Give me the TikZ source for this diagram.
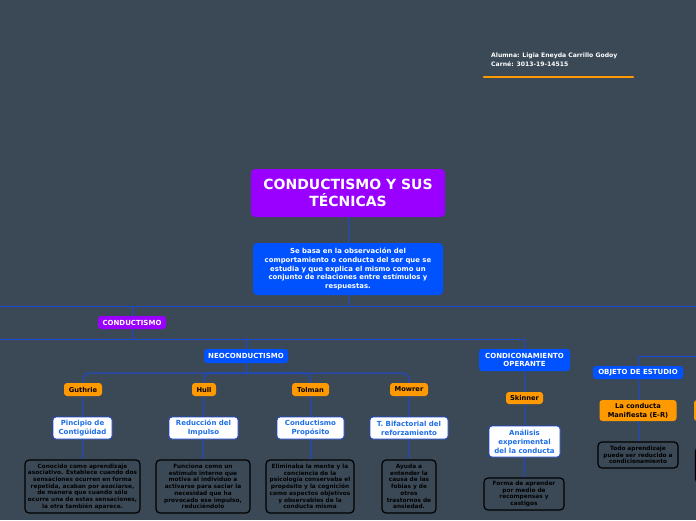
\documentclass[tikz,border=0pt]{standalone}
\usepackage{fontspec}
\setmainfont{DejaVu Sans}
\usetikzlibrary{positioning}

\definecolor{bgslate}{RGB}{59,73,87}
\definecolor{mmpurple}{RGB}{153,0,255}
\definecolor{mmblue}{RGB}{0,82,255}
\definecolor{mmorange}{RGB}{255,153,0}
\definecolor{mmline}{RGB}{28,72,214}
\definecolor{mmtext}{RGB}{30,110,230}

\newcommand{\mmfont}[2]{\fontsize{#1}{#2}\selectfont\bfseries}

\begin{document}
\begin{tikzpicture}[x=1pt, y=-1pt,
    conn/.style={draw=mmline, line width=1pt},
    titlebox/.style={fill=mmpurple, rounded corners=4pt, align=center, text=white, inner sep=0pt, font=\mmfont{14}{17}},
    descbox/.style={fill=mmblue, rounded corners=4pt, align=center, text=white, inner sep=0pt, font=\mmfont{6.9}{8.8}},
    catbox/.style={fill=mmblue, rounded corners=3pt, align=center, text=white, inner sep=0pt, font=\mmfont{7}{8.4}},
    orbox/.style={fill=mmorange, rounded corners=3pt, align=center, text=black, inner sep=0pt, font=\mmfont{6.7}{9}},
    whbox/.style={fill=white, draw=mmline, line width=0.8pt, rounded corners=3pt, align=center, text=mmtext, inner sep=0pt, font=\mmfont{7}{8.8}},
    notebox/.style={fill=bgslate, draw=black, line width=1.2pt, rounded corners=4pt, align=center, text=black, inner sep=0pt, font=\mmfont{5.8}{6.7}},
    orline/.style={draw=mmorange, line width=2.5pt, line cap=round}
]
\fill[bgslate] (0,0) rectangle (696,520);
\clip (0,0) rectangle (696,520);

% student info
\node[anchor=north west, align=left, text=white, inner sep=0pt, font=\mmfont{6.1}{9}] (stud) at (491,53) {Alumna: Ligia Eneyda Carrillo Godoy\\Carné: 3013-19-14515};
\draw[orline] (484,77) -- (633,77);

% central topic
\node[titlebox, minimum width=194pt, minimum height=48pt] (title) at (348,193) {CONDUCTISMO Y SUS\\TÉCNICAS};
\node[descbox, minimum width=190pt, minimum height=52pt] (desc) at (348,269) {Se basa en la observación del\\comportamiento o conducta del ser que se\\estudia y que explica el mismo como un\\conjunto de relaciones entre estímulos y\\respuestas.};

% main branches
\node[titlebox, font=\mmfont{7}{8.4}, rounded corners=3pt, minimum width=68pt, minimum height=13pt] (conduct) at (132,322.5) {CONDUCTISMO};
\node[catbox, minimum width=84pt, minimum height=14pt] (neo) at (246,356) {NEOCONDUCTISMO};
\node[catbox, minimum width=91pt, minimum height=22pt] (condop) at (524.5,360) {CONDICONAMIENTO\\OPERANTE};
\node[catbox, minimum width=90pt, minimum height=13pt] (objeto) at (638,372.5) {OBJETO DE ESTUDIO};

% authors
\node[orbox, minimum width=38pt, minimum height=13pt] (guthrie) at (83,389.5) {Guthrie};
\node[orbox, minimum width=24pt, minimum height=13pt] (hull) at (204,389.5) {Hull};
\node[orbox, minimum width=37pt, minimum height=13pt] (tolman) at (310.5,389.5) {Tolman};
\node[orbox, minimum width=38pt, minimum height=13pt] (mowrer) at (409,389.5) {Mowrer};
\node[orbox, minimum width=37pt, minimum height=12pt] (skinner) at (524.5,398) {Skinner};
\node[orbox, minimum width=77pt, minimum height=21pt] (manif) at (638,410.5) {La conducta\\Manifiesta (E-R)};
\node[orbox, minimum width=80pt, minimum height=21pt] (manif2) at (734,410.5) {};

% theories
\node[whbox, minimum width=59pt, minimum height=22pt] (contig) at (82.5,428) {Pincipio de\\Contigüidad};
\node[whbox, minimum width=69pt, minimum height=22pt] (impulso) at (203.5,428) {Reducción del\\Impulso};
\node[whbox, minimum width=67pt, minimum height=22pt] (proposito) at (310.5,428) {Conductismo\\Propósito};
\node[whbox, minimum width=78pt, minimum height=22pt] (bifact) at (409,428) {T. Bifactorial del\\reforzamiento};
\node[whbox, minimum width=71pt, minimum height=31pt] (analisis) at (524.5,441.5) {Análisis\\experimental\\del la conducta};

% notes
\node[notebox, minimum width=115pt, minimum height=53pt] (ncontig) at (82.5,486.5) {Conocido como aprendizaje\\asociativo. Establece cuando dos\\sensaciones ocurren en forma\\repetida, acaban por asociarse,\\de manera que cuando sólo\\ocurre una de estas sensaciones,\\la otra también aparece.};
\node[notebox, minimum width=94pt, minimum height=53pt] (nimpulso) at (203,486.5) {Funciona como un\\estímulo interno que\\motiva al individuo a\\activarse para saciar la\\necesidad que ha\\provocado ese impulso,\\reduciéndolo};
\node[notebox, minimum width=88pt, minimum height=53pt] (nproposito) at (310,486.5) {Eliminaba la mente y la\\conciencia de la\\psicología conservaba el\\propósito y la cognición\\como aspectos objetivos\\y observables de la\\conducta misma};
\node[notebox, minimum width=54pt, minimum height=53pt] (nbifact) at (409,486.5) {Ayuda a\\entender la\\causa de las\\fobias y de\\otros\\trastornos de\\ansiedad.};
\node[notebox, minimum width=80pt, minimum height=32pt] (nanalisis) at (524,494) {Forma de aprender\\por medio de\\recompensas y\\castigos};
\node[notebox, minimum width=80pt, minimum height=26pt] (nmanif) at (638,455) {Todo aprendizaje\\puede ser reducido a\\condicionamiento};
\node[notebox, minimum width=80pt, minimum height=36pt] (nmanif2) at (735.5,465) {};

% junctions
\coordinate (hub) at (348,306);
\coordinate (hubL) at (-5,306);
\coordinate (hubR) at (701,306);
\coordinate (cj) at (132,339);
\coordinate (cjL) at (-5,339);
\coordinate (neoj) at (246,373);
\coordinate (objR) at (701,356);

% connectors
\draw[conn] (title) -- (desc);
\draw[conn] (desc) -- (hub);
\draw[conn] (hubL) -- (hubR);
\draw[conn] (hub -| conduct) -- (conduct);
\draw[conn] (conduct) -- (cj);
\draw[conn] (cjL) -| (condop);
\draw[conn] (cj -| neo) -- (neo);
\draw[conn] (neo) -- (neoj);
\foreach \c in {guthrie,hull,tolman,mowrer}
    \draw[conn, rounded corners=7pt] (neoj) -| (\c.north);
\draw[conn] (objR) -| (objeto);
\foreach \a/\b in {guthrie/contig, hull/impulso, tolman/proposito, mowrer/bifact,
                   contig/ncontig, impulso/nimpulso, proposito/nproposito, bifact/nbifact,
                   condop/skinner, skinner/analisis, analisis/nanalisis,
                   objeto/manif, manif/nmanif}
    \draw[conn] (\a) -- (\b);

\end{tikzpicture}
\end{document}
